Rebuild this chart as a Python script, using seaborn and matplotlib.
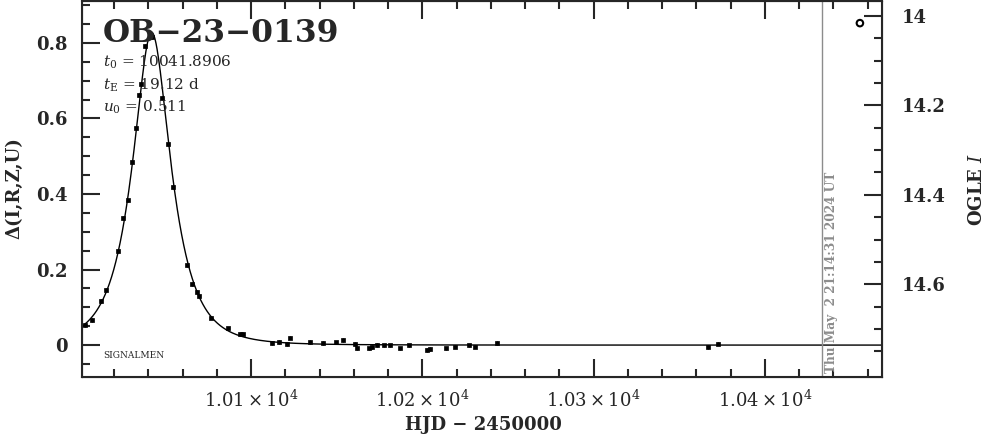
import numpy as np
import matplotlib
matplotlib.use("Agg")
import matplotlib.pyplot as plt
from matplotlib.ticker import MultipleLocator, FixedLocator, FuncFormatter
import seaborn as sns

# photometry (HJD - 2450000, delta mag)
hjd = [10002.9, 10007.2, 10012.5, 10015.4, 10022.4, 10025.0, 10027.9, 10030.2,
       10032.6, 10034.7, 10035.5, 10038.0, 10041.9, 10048.0, 10051.3, 10054.6,
       10062.4, 10065.7, 10068.2, 10069.6, 10076.6, 10086.4, 10093.6, 10095.5,
       10112.1, 10116.5, 10120.9, 10122.8, 10134.5, 10141.7, 10149.7, 10153.6,
       10160.4, 10161.6, 10168.6, 10170.6, 10173.5, 10177.8, 10180.9, 10186.7,
       10192.0, 10202.7, 10204.7, 10213.9, 10218.9, 10227.1, 10231.0, 10243.7,
       10366.8, 10372.7]
delta = [0.053, 0.066, 0.116, 0.145, 0.248, 0.336, 0.383, 0.484,
         0.576, 0.663, 0.691, 0.792, 0.816, 0.655, 0.533, 0.418,
         0.211, 0.161, 0.141, 0.130, 0.073, 0.044, 0.029, 0.029,
         0.006, 0.008, 0.002, 0.020, 0.008, 0.006, 0.007, 0.013,
         0.002, -0.009, -0.009, -0.005, 0.000, -0.001, -0.001, -0.009,
         -0.001, -0.013, -0.010, -0.009, -0.004, -0.001, -0.004, 0.006,
         -0.006, 0.004]
errs = [0.005] * len(hjd)

# fit parameters printed on the chart
t0 = 10041.8906
tE = 19.12
u0 = 0.511

event_name = "OB\u221223\u22120139"
stamp = "Thu May  2 21:14:31 2024 UT"
now_hjd = 10433.4
last_hjd = 10455.5
last_mag = 14.016
mag_ticks = [14.0, 14.2, 14.4, 14.6]
mag_minor = [13.95, 14.05, 14.1, 14.15, 14.25, 14.3, 14.35, 14.45, 14.5,
             14.55, 14.65, 14.7, 14.75]

# Paczynski model curve from the printed parameters
t = np.linspace(10001, 10469, 1500)
u = np.sqrt(u0**2 + ((t - t0) / tE) ** 2)
amp = (u**2 + 2) / (u * np.sqrt(u**2 + 4))
model = 2.5 * np.log10(amp)

sns.set_style("ticks")
plt.rcParams['font.family'] = ['DejaVu Serif']
plt.rcParams['mathtext.fontset'] = 'dejavuserif'

fig = plt.figure(figsize=(9.86, 4.34), dpi=100)
ax = fig.add_axes([82/986, 57/434, 800/986, 376/434])

sns.lineplot(x=t, y=model, ax=ax, color='black', lw=1)
ax.errorbar(hjd, delta, yerr=errs, fmt='none', ecolor='black', elinewidth=1)
sns.scatterplot(x=hjd, y=delta, ax=ax, marker='s', s=8, color='black',
                edgecolor='black', linewidth=0.5)
ax.axvline(now_hjd, color='#8c8c8c', lw=1)

ax.set_xlim(10001.2, 10468.4)
ax.set_ylim(-0.0845, 0.911)
ax.xaxis.set_major_locator(MultipleLocator(100))
ax.xaxis.set_minor_locator(MultipleLocator(20))
ax.yaxis.set_major_locator(MultipleLocator(0.2))
ax.yaxis.set_minor_locator(MultipleLocator(0.05))
ax.xaxis.set_major_formatter(FuncFormatter(lambda v, p: rf"${v/1e4:.2f}\times10^{{4}}$"))
ax.yaxis.set_major_formatter(FuncFormatter(lambda v, p: "0" if abs(v) < 1e-9 else f"{v:.1f}"))
ax.tick_params(which='both', direction='in', top=True, right=False, width=1.5)
ax.tick_params(which='major', length=13)
ax.tick_params(which='minor', length=6)
ax.tick_params(axis='x', pad=9, labelsize=13)
ax.tick_params(axis='y', pad=10, labelsize=13)
for lab in ax.get_xticklabels() + ax.get_yticklabels():
    lab.set_fontweight('bold')
for sp in ax.spines.values():
    sp.set_linewidth(1.5)

ax2 = ax.twinx()
ax2.set_ylim(14.8075, 13.9665)
ax2.yaxis.set_major_locator(FixedLocator(mag_ticks))
ax2.yaxis.set_minor_locator(FixedLocator(mag_minor))
ax2.yaxis.set_major_formatter(FuncFormatter(lambda v, p: "14" if abs(v - 14) < 1e-9 else f"{v:.1f}"))
ax2.tick_params(which='both', direction='in', width=1.5, labelsize=13, pad=14)
ax2.tick_params(which='major', length=13)
ax2.tick_params(which='minor', length=6)
for lab in ax2.get_yticklabels():
    lab.set_fontweight('bold')
sns.scatterplot(x=[last_hjd], y=[last_mag], ax=ax2, marker='o', s=22,
                facecolor='none', edgecolor='black', linewidth=1.5)
ax2.set_xlim(10001.2, 10468.4)

ax.text(now_hjd + 1.5, -0.074, stamp, rotation=90, ha='left', va='bottom',
        color='#8c8c8c', fontsize=8.7, fontweight='bold')

fig.text(103/986, 1 - 42/434, event_name, fontsize=22.5, fontweight='bold',
         ha='left', va='baseline')
fig.text(103/986, 1 - 67/434, r"$t_0$ = 10041.8906", fontsize=11, ha='left', va='baseline')
fig.text(103/986, 1 - 90/434, r"$t_{\rm E}$ = 19.12 d", fontsize=11, ha='left', va='baseline')
fig.text(103/986, 1 - 112/434, r"$u_0$ = 0.511", fontsize=11, ha='left', va='baseline')
fig.text(103/986, 1 - 358/434, "SIGNALMEN", fontsize=6.5, ha='left', va='baseline')

fig.text(14/986, 1 - 188/434, "\u0394(I,R,Z,U)", rotation=90, ha='center', va='center',
         fontsize=13, fontweight='bold')
fig.text(977/986, 1 - 189/434, r"OGLE $I$", rotation=90, ha='center', va='center',
         fontsize=13, fontweight='bold')
fig.text(483/986, 1 - 425/434, "HJD \u2212 2450000", ha='center', va='center',
         fontsize=13, fontweight='bold')

fig.savefig("out.png", dpi=100)
